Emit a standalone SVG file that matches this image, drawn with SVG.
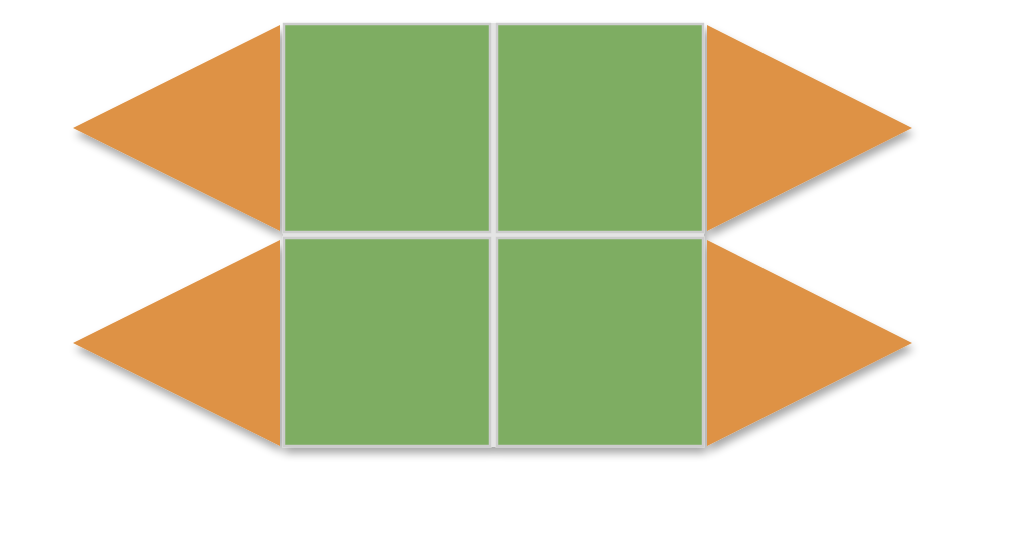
<svg xmlns="http://www.w3.org/2000/svg" width="1024" height="535" viewBox="0 0 1024 535">
<defs>
<filter id="sh" x="-20%" y="-20%" width="140%" height="150%">
<feGaussianBlur in="SourceAlpha" stdDeviation="4"/>
<feOffset dx="2" dy="6" result="b"/>
<feComponentTransfer><feFuncA type="linear" slope="0.35"/></feComponentTransfer>
<feMerge><feMergeNode/><feMergeNode in="SourceGraphic"/></feMerge>
</filter>
<style>
.sq{fill:#7EAD62;stroke:#cdcdcd;stroke-width:2.5}
.tri{fill:#DE9244}
</style>
</defs>
<rect width="1024" height="535" fill="#ffffff"/>
<g filter="url(#sh)">
<g id="tri-tl"><polygon class="tri" points="73,128 280,25 280,231"/></g>
<g id="tri-bl"><polygon class="tri" points="73,343 280,240 280,446"/></g>
<g id="tri-tr"><polygon class="tri" points="912,128 707,25 707,231"/></g>
<g id="tri-br"><polygon class="tri" points="912,343 707,240 707,446"/></g>
<rect x="283" y="23" width="421" height="424" fill="#e4e4e4"/>
<g id="sq-tl"><rect class="sq" x="284" y="24" width="206" height="208"/></g>
<g id="sq-tr"><rect class="sq" x="497" y="24" width="206" height="208"/></g>
<g id="sq-bl"><rect class="sq" x="284" y="238" width="206" height="208"/></g>
<g id="sq-br"><rect class="sq" x="497" y="238" width="206" height="208"/></g>
</g>
<g id="connectors"/>
</svg>
